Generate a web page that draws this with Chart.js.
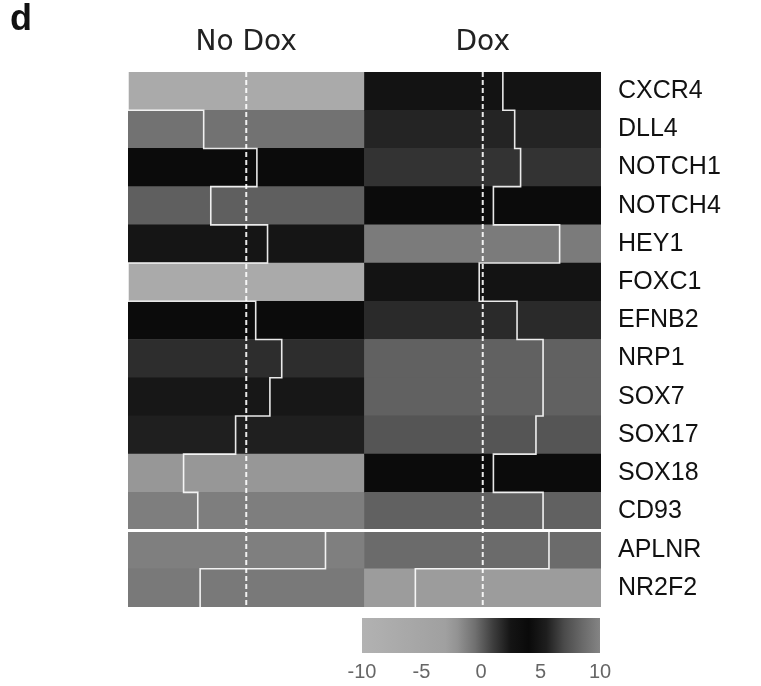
<!DOCTYPE html>
<html>
<head>
<meta charset="utf-8">
<script src="https://cdn.jsdelivr.net/npm/chart.js@4"></script>
<style>
  body { margin: 0; background: #fff; }
  #wrap { position: relative; width: 761px; height: 686px; }
  #panel { position: absolute; left: 10px; top: -3px; font: bold 36px "Liberation Sans", Arial, sans-serif; color: #111; }
  #heat { position: absolute; left: 0; top: 0; }
  #key { position: absolute; left: 340px; top: 612px; }
</style>
</head>
<body>
<div id="wrap">
  <canvas id="heat" width="761" height="686"></canvas>
  <canvas id="key" width="280" height="74"></canvas>
  <div id="panel">d</div>
</div>
<script>
const conditions = ["No Dox", "Dox"];
const genes = ["CXCR4", "DLL4", "NOTCH1", "NOTCH4", "HEY1", "FOXC1", "EFNB2",
               "NRP1", "SOX7", "SOX17", "SOX18", "CD93", "APLNR", "NR2F2"];
const noDox = [-7, -0.6, 3.9, 0.0, 4.8, -7, 3.8, 6.0, 5.0, 2.1, -2.3, -1.1, 9.7, -0.9];
const dox = [4.7, 5.7, 6.2, 3.9, 9.5, 2.7, 5.9, 8.1, 8.1, 7.5, 3.9, 8.1, 8.6, -2.7];
const keyTicks = [-10, -5, 0, 5, 10];

// grey ramp of the colour key
const rampAt = [-10, -3, -2, -0.5, 1, 2.5, 4, 5.5, 7, 8.5, 10];
const rampGrey = [178, 160, 147, 112, 62, 20, 10, 30, 75, 105, 132];
const traceCentre = 3;   // value under the dashed line
const rowSep = 12;       // gap before APLNR

function grey(v) {
    let g = rampGrey[0];
    if (v >= rampAt[rampAt.length - 1]) g = rampGrey[rampGrey.length - 1];
    for (let i = 0; i < rampAt.length - 1; i++) {
        if (v >= rampAt[i] && v <= rampAt[i + 1]) {
            const t = (v - rampAt[i]) / (rampAt[i + 1] - rampAt[i]);
            g = rampGrey[i] + t * (rampGrey[i + 1] - rampGrey[i]);
            break;
        }
    }
    g = Math.round(g);
    return `rgb(${g},${g},${g})`;
}

// chart.js pads axes for overhanging labels, we place them ourselves
function noPad(s) {
    s.paddingLeft = 0; s.paddingRight = 0;
    s.paddingTop = 0; s.paddingBottom = 0;
}

const series = [noDox, dox];

const cells = [];
series.forEach((vals, c) => {
    vals.forEach((v, i) => cells.push({ y: i + 0.5, x: [c, c + 1], v: v }));
});

function tracePoints(vals, c) {
    const pts = [];
    vals.forEach((v, i) => {
        const x = c + 0.5 + (v - traceCentre) / 20;
        pts.push({ x: x, y: i }, { x: x, y: i + 1 });
    });
    return pts;
}

const lineStyle = { type: "line", pointRadius: 0, fill: false, tension: 0 };

new Chart(document.getElementById("heat"), {
    type: "bar",
    data: {
        datasets: [
            {
                ...lineStyle, order: 0,
                data: [{ x: 0, y: rowSep }, { x: 2, y: rowSep }],
                borderColor: "#ffffff", borderWidth: 3
            },
            ...series.map((vals, c) => ({
                ...lineStyle, order: 1,
                data: tracePoints(vals, c),
                borderColor: "rgba(255,255,255,0.9)", borderWidth: 1.6
            })),
            ...conditions.map((name, c) => ({
                ...lineStyle, order: 1,
                data: [{ x: c + 0.5, y: 0 }, { x: c + 0.5, y: genes.length }],
                borderColor: "rgba(255,255,255,0.9)", borderWidth: 2, borderDash: [5, 3]
            })),
            {
                type: "bar", order: 2, indexAxis: "y", grouped: false,
                data: cells,
                backgroundColor: ctx => grey(ctx.raw ? ctx.raw.v : 0),
                borderWidth: 0,
                barPercentage: 1, categoryPercentage: 1
            }
        ]
    },
    options: {
        responsive: false,
        animation: false,
        layout: { padding: { left: 128, top: 0, right: 0, bottom: 79 } },
        plugins: { legend: { display: false }, tooltip: { enabled: false } },
        scales: {
            x: {
                type: "linear", position: "top", min: 0, max: 2, offset: false,
                afterFit: s => { s.height = 72; noPad(s); },
                afterBuildTicks: s => { s.ticks = conditions.map((n, c) => ({ value: c + 0.5 })); },
                ticks: {
                    callback: v => conditions[Math.floor(v)],
                    padding: 12, maxRotation: 0, autoSkip: false,
                    color: "#222", font: { family: "DejaVu Sans", size: 28 }
                },
                grid: { display: false, drawTicks: false, offset: false },
                border: { display: false }
            },
            y: {
                type: "linear", position: "right", min: 0, max: genes.length, reverse: true, offset: false,
                afterFit: s => { s.width = 160; noPad(s); },
                afterBuildTicks: s => { s.ticks = genes.map((g, i) => ({ value: i + 0.5 })); },
                ticks: {
                    callback: v => genes[Math.floor(v)],
                    padding: 17, autoSkip: false,
                    color: "#111", font: { family: "Liberation Sans", size: 25 }
                },
                grid: { display: false, drawTicks: false, offset: false },
                border: { display: false }
            }
        }
    }
});

new Chart(document.getElementById("key"), {
    type: "bar",
    data: {
        labels: ["key"],
        datasets: [{
            data: [[keyTicks[0], keyTicks[keyTicks.length - 1]]],
            backgroundColor: ctx => {
                const chart = ctx.chart;
                if (!chart.chartArea) return "#888";
                const sx = chart.scales.x;
                const lo = keyTicks[0], hi = keyTicks[keyTicks.length - 1];
                const grad = chart.ctx.createLinearGradient(sx.getPixelForValue(lo), 0, sx.getPixelForValue(hi), 0);
                rampAt.forEach((a, i) => {
                    const g = rampGrey[i];
                    grad.addColorStop((a - lo) / (hi - lo), `rgb(${g},${g},${g})`);
                });
                return grad;
            },
            borderWidth: 0,
            barPercentage: 1, categoryPercentage: 1
        }]
    },
    options: {
        indexAxis: "y",
        responsive: false,
        animation: false,
        layout: { padding: { left: 22, top: 6, right: 20, bottom: 0 } },
        plugins: { legend: { display: false }, tooltip: { enabled: false } },
        scales: {
            x: {
                type: "linear", min: -10, max: 10,
                afterFit: s => { s.height = 33; noPad(s); },
                afterBuildTicks: s => { s.ticks = keyTicks.map(v => ({ value: v })); },
                ticks: {
                    padding: 7, maxRotation: 0, autoSkip: false,
                    color: "#666", font: { family: "Liberation Sans", size: 20 }
                },
                grid: { display: false, drawTicks: false },
                border: { display: false }
            },
            y: { display: false }
        }
    }
});
</script>
</body>
</html>
